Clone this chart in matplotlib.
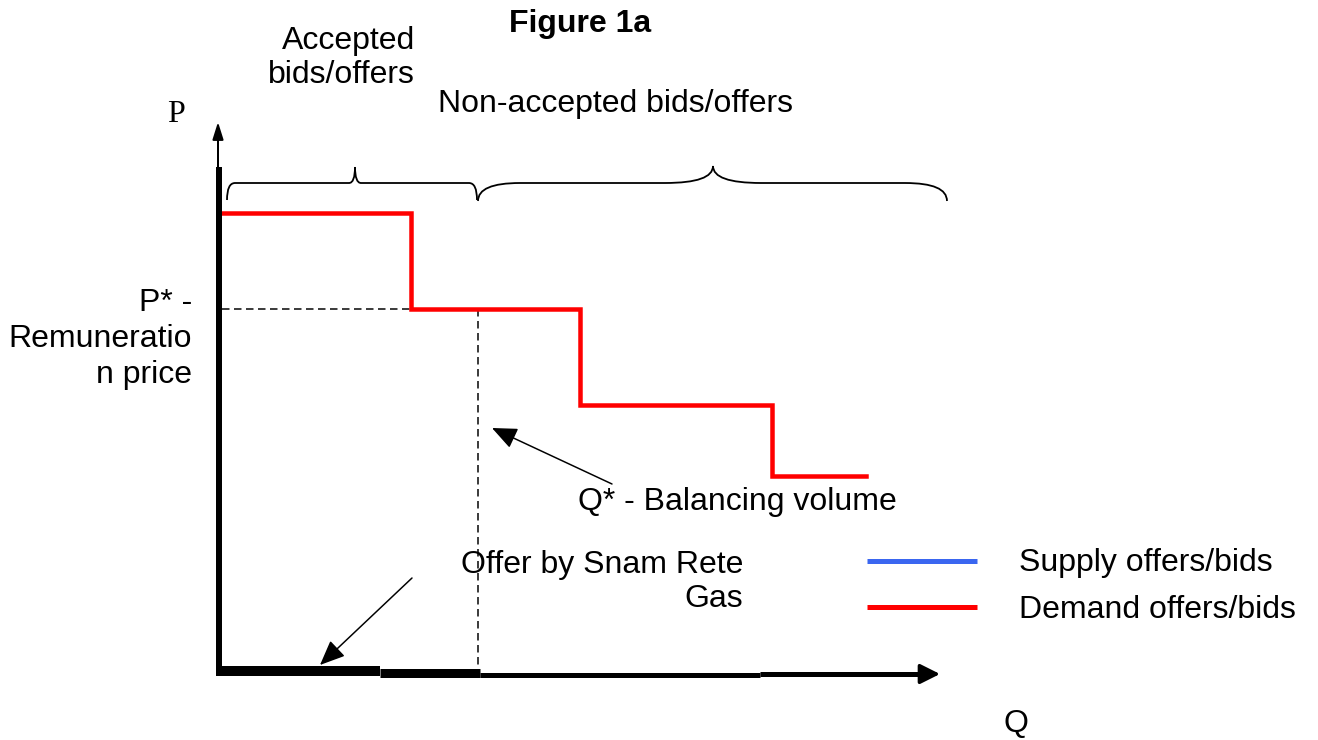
import matplotlib
matplotlib.use("Agg")
import matplotlib.pyplot as plt
from matplotlib.path import Path
from matplotlib.patches import PathPatch

# ---- data (Q and P in arbitrary diagram units) ----
demand_q = [4, 193, 362, 554, 648]          # step edges of demand curve
demand_p = [459, 363, 267, 196]             # price of each step
snam_q = [0, 162, 262, 542, 707]            # offer segments by Snam Rete Gas along Q axis
snam_p = [1, -1, -3, -2]
p_star = 363
q_star = 260
accepted_span = [9, 259]
nonaccepted_span = [260, 729]
legend_labels = ["Supply offers/bids", "Demand offers/bids"]
legend_colors = ["#3a66f0", "#ff0000"]

PX = 0.72  # points per pixel at dpi 100

fig = plt.figure(figsize=(13.18, 7.40), dpi=100)
ax = fig.add_axes([0, 0, 1, 1])
ax.set_xlim(-218, 1100)
ax.set_ylim(-68, 672)
ax.axis("off")

FONT = "Liberation Sans"
FS = 23

# demand step curve
xs, ys = [], []
for i, p in enumerate(demand_p):
    xs += [demand_q[i], demand_q[i + 1]]
    ys += [p, p]
ax.plot(xs, ys, color="#ff0000", lw=4.5 * PX, solid_joinstyle="miter", zorder=3)

# dashed guide lines
ax.plot([demand_q[0], q_star], [p_star, p_star], color="black", lw=1.5 * PX,
        dashes=(5, 3), zorder=2)
ax.plot([q_star, q_star], [p_star, -8], color="black", lw=1.5 * PX,
        dashes=(5, 3), zorder=2)

# Q axis made of Snam segments
seg_w = [10, 9, 5, 5]
for i in range(len(snam_p)):
    ax.plot([snam_q[i], snam_q[i + 1]], [snam_p[i], snam_p[i]], color="black",
            lw=seg_w[i] * PX, solid_capstyle="butt", zorder=4)
ax.annotate("", xy=(snam_q[-1] + 15, snam_p[-1]), xytext=(snam_q[-1] - 2, snam_p[-1]),
            arrowprops=dict(arrowstyle="-|>,head_length=0.6,head_width=0.3",
                            lw=3.5 * PX, color="black", mutation_scale=20,
                            shrinkA=0, shrinkB=0))

# P axis
ax.plot([1, 1], [-4, 505], color="black", lw=6 * PX, solid_capstyle="butt", zorder=4)
ax.annotate("", xy=(0, 550), xytext=(0, 505),
            arrowprops=dict(arrowstyle="-|>,head_length=0.7,head_width=0.22",
                            lw=2.0 * PX, color="black", mutation_scale=15,
                            shrinkA=0, shrinkB=0))


def brace(x0, x1, xm, ybase, ytip, yend, re_, rt):
    verts = [(x0, yend), (x0, ybase), (x0 + re_, ybase),
             (xm - rt, ybase), (xm, ybase), (xm, ytip),
             (xm, ybase), (xm + rt, ybase),
             (x1 - re_, ybase), (x1, ybase), (x1, yend)]
    codes = [Path.MOVETO, Path.CURVE3, Path.CURVE3,
             Path.LINETO, Path.CURVE3, Path.CURVE3,
             Path.CURVE3, Path.CURVE3,
             Path.LINETO, Path.CURVE3, Path.CURVE3]
    ax.add_patch(PathPatch(Path(verts, codes), fill=False, lw=1.8 * PX,
                           edgecolor="black"))


brace(accepted_span[0], accepted_span[1], 137, 489, 505, 472, 8, 6)
brace(nonaccepted_span[0], nonaccepted_span[1], 495, 489, 506, 471, 42, 48)

# annotation arrows
arrow_kw = dict(arrowstyle="-|>,head_length=0.7,head_width=0.3", lw=1.5 * PX,
                color="black", mutation_scale=22, shrinkA=0, shrinkB=0)
ax.annotate("", xy=(274, 244), xytext=(394, 188), arrowprops=arrow_kw)
ax.annotate("", xy=(102, 7), xytext=(194, 94), arrowprops=arrow_kw)

# texts
ax.text(362, 648, "Figure 1a", fontsize=FS, fontweight="bold", family=FONT,
        ha="center", va="center")
ax.text(197, 614, "Accepted\nbids/offers", fontsize=FS, family=FONT,
        ha="right", va="center", multialignment="right", linespacing=1.18)
ax.text(220, 568, "Non-accepted bids/offers", fontsize=FS, family=FONT,
        ha="left", va="center")
ax.text(-42, 557, "P", fontsize=23, family="Liberation Serif",
        ha="center", va="center")
ax.text(-26, 333, "P* -\nRemuneratio\nn price", fontsize=FS, family=FONT,
        ha="right", va="center", multialignment="right", linespacing=1.26)
ax.text(360, 170, "Q* - Balancing volume", fontsize=FS, family=FONT,
        ha="left", va="center")
ax.text(525, 90, "Offer by Snam Rete\nGas", fontsize=FS, family=FONT,
        ha="right", va="center", multialignment="right", linespacing=1.21)
ax.text(798, -52, "Q", fontsize=FS, family=FONT, ha="center", va="center")

# legend
leg_p = [109, 62]
line_p = [111, 65]
for lab, col, p, lp in zip(legend_labels, legend_colors, leg_p, line_p):
    ax.plot([649, 759], [lp, lp], color=col, lw=5 * PX, solid_capstyle="butt")
    ax.text(801, p, lab, fontsize=FS, family=FONT, ha="left", va="center")

fig.savefig("out.png", dpi=100)
